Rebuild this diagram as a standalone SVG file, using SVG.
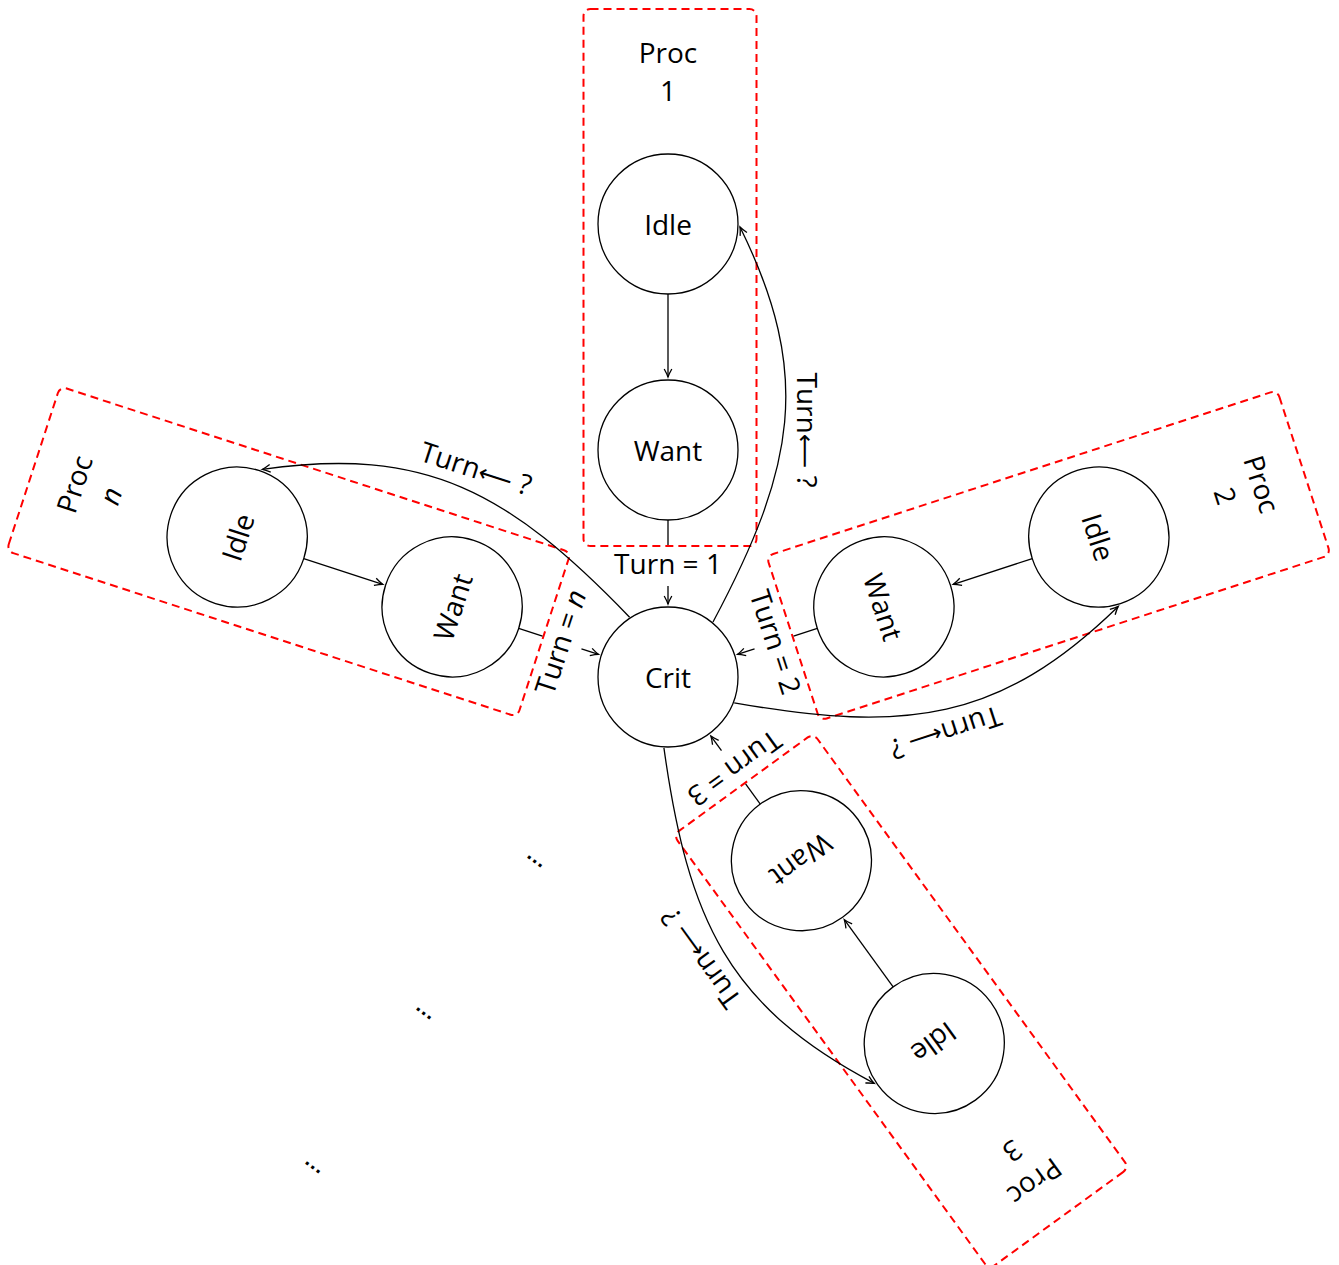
<svg xmlns="http://www.w3.org/2000/svg" width="1339" height="1265" viewBox="0 0 1339 1265">
<defs>
<style>
.box{fill:none;stroke:#ff0000;stroke-width:2;stroke-dasharray:8 5}
.node circle{fill:none;stroke:#000;stroke-width:1.3}
text{font-family:"Open Sans","DejaVu Sans",sans-serif;font-size:28px;fill:#000;text-anchor:middle}
.edge{fill:none;stroke:#000;stroke-width:1.3}
.arr{marker-end:url(#tip)}
.dots{font-family:"Liberation Sans",sans-serif;font-size:21px;font-weight:bold}
.it{font-style:italic}
.la{font-family:"DejaVu Sans",sans-serif;font-size:24px}
</style>
<marker id="tip" markerUnits="userSpaceOnUse" viewBox="-10 -6 12 12" refX="0" refY="0" markerWidth="12" markerHeight="12" orient="auto" overflow="visible">
<path d="M-8,-3.8 Q-3,-1 0,0 Q-3,1 -8,3.8" fill="none" stroke="#000" stroke-width="1.3"/>
</marker>
</defs>
<rect x="0" y="0" width="1339" height="1265" fill="#fff"/>

<g id="clusters">
<g id="proc1"><rect class="box" x="583.5" y="9" width="173" height="537" rx="7"/><text x="668" y="63">Proc</text><text x="668" y="101">1</text></g>
<g id="proc2" transform="rotate(72 668 677)"><rect class="box" x="583.5" y="9" width="173" height="537" rx="7"/><text x="668" y="63">Proc</text><text x="668" y="101">2</text></g>
<g id="proc3" transform="rotate(144 668 677)"><rect class="box" x="583.5" y="9" width="173" height="537" rx="7"/><text x="668" y="63">Proc</text><text x="668" y="101">3</text></g>
<g id="procn" transform="rotate(-72 668 677)"><rect class="box" x="583.5" y="9" width="173" height="537" rx="7"/><text x="668" y="63">Proc</text><text x="668" y="101" class="it">n</text></g>
</g>

<g id="crit" class="node"><circle cx="668" cy="677" r="70"/><text x="668" y="688">Crit</text></g>
<g id="idle1" class="node"><circle cx="668" cy="224" r="70"/><text x="668" y="235">Idle</text></g>
<g id="want1" class="node"><circle cx="668" cy="450" r="70"/><text x="668" y="461">Want</text></g>
<g id="idle2" class="node" transform="rotate(72 668 677)"><circle cx="668" cy="224" r="70"/><text x="668" y="235">Idle</text></g>
<g id="want2" class="node" transform="rotate(72 668 677)"><circle cx="668" cy="450" r="70"/><text x="668" y="461">Want</text></g>
<g id="idle3" class="node" transform="rotate(144 668 677)"><circle cx="668" cy="224" r="70"/><text x="668" y="235">Idle</text></g>
<g id="want3" class="node" transform="rotate(144 668 677)"><circle cx="668" cy="450" r="70"/><text x="668" y="461">Want</text></g>
<g id="idlen" class="node" transform="rotate(-72 668 677)"><circle cx="668" cy="224" r="70"/><text x="668" y="235">Idle</text></g>
<g id="wantn" class="node" transform="rotate(-72 668 677)"><circle cx="668" cy="450" r="70"/><text x="668" y="461">Want</text></g>

<g id="connectors">
<g id="edges1">
<line class="edge arr" x1="668" y1="294" x2="668" y2="377"/>
<line class="edge" x1="668" y1="520" x2="668" y2="545"/>
<line class="edge arr" x1="668" y1="586" x2="668" y2="604"/>
<path class="edge arr" d="M713,622 C795,468 813,375 740,227"/>
<text x="668" y="574">Turn = 1</text>
<text transform="translate(797,430) rotate(90)">Turn<tspan class="la">⟵</tspan> ?</text>
</g>
<g id="edges2" transform="rotate(72 668 677)">
<line class="edge arr" x1="668" y1="294" x2="668" y2="377"/>
<line class="edge" x1="668" y1="520" x2="668" y2="545"/>
<line class="edge arr" x1="668" y1="586" x2="668" y2="604"/>
<path class="edge arr" d="M713,622 C795,468 813,375 740,227"/>
<text x="668" y="574">Turn = 2</text>
<text transform="translate(797,430) rotate(90)">Turn<tspan class="la">⟵</tspan> ?</text>
</g>
<g id="edges3" transform="rotate(144 668 677)">
<line class="edge arr" x1="668" y1="294" x2="668" y2="377"/>
<line class="edge" x1="668" y1="520" x2="668" y2="545"/>
<line class="edge arr" x1="668" y1="586" x2="668" y2="604"/>
<path class="edge arr" d="M713,622 C795,468 813,375 740,227"/>
<text x="668" y="574">Turn = 3</text>
<text transform="translate(797,430) rotate(90)">Turn<tspan class="la">⟵</tspan> ?</text>
</g>
<g id="edgesn" transform="rotate(-72 668 677)">
<line class="edge arr" x1="668" y1="294" x2="668" y2="377"/>
<line class="edge" x1="668" y1="520" x2="668" y2="545"/>
<line class="edge arr" x1="668" y1="586" x2="668" y2="604"/>
<path class="edge arr" d="M713,622 C795,468 813,375 740,227"/>
<text x="668" y="574">Turn = <tspan class="it">n</tspan></text>
<text transform="translate(797,430) rotate(90)">Turn<tspan class="la">⟵</tspan> ?</text>
</g>
</g>

<g id="ellipses">
<text class="dots" transform="translate(535,861) rotate(36)" y="2">…</text>
<text class="dots" transform="translate(424,1013) rotate(36)" y="2">…</text>
<text class="dots" transform="translate(313,1167) rotate(36)" y="2">…</text>
</g>
</svg>
